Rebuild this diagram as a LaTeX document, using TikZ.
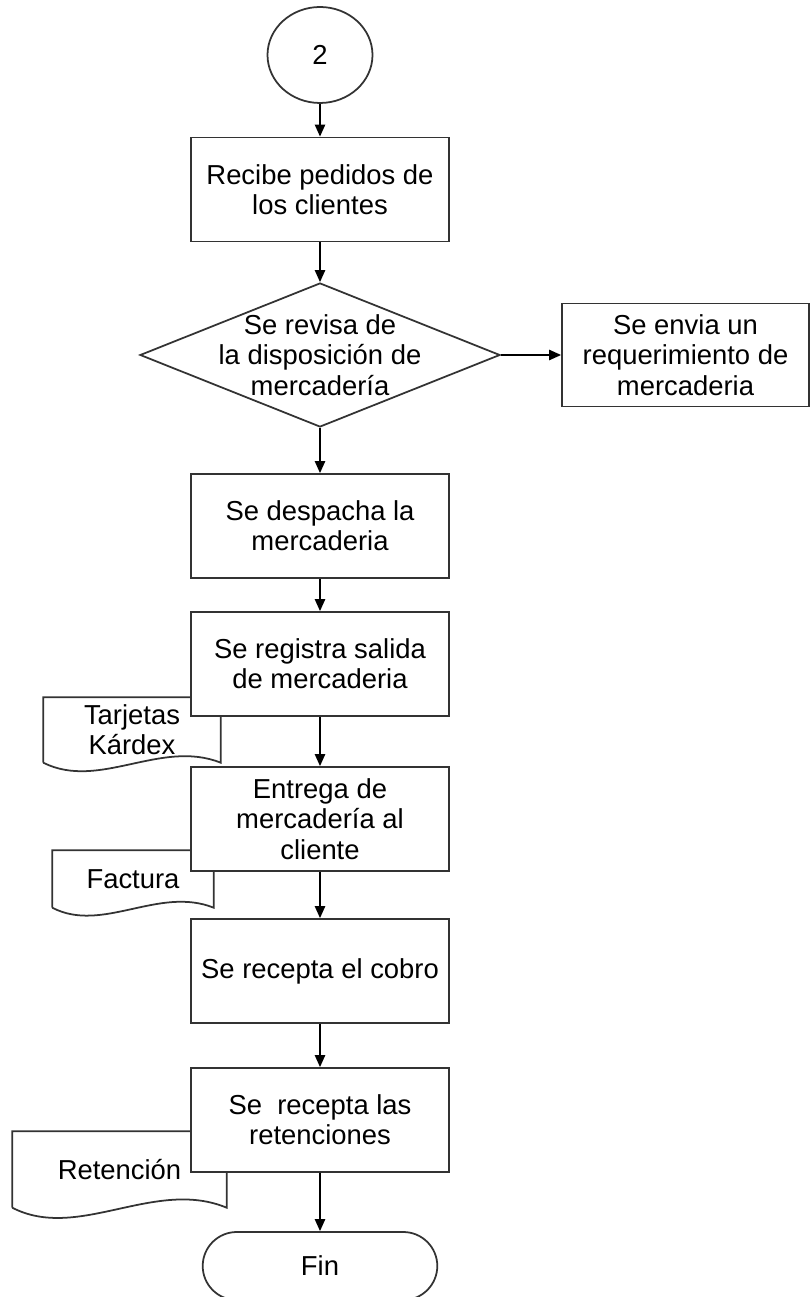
\documentclass[tikz,border=0pt]{standalone}
\usepackage{fontspec}
\setmainfont{Liberation Sans}
\usepackage{tikz}
\usetikzlibrary{shapes.geometric,shapes.misc,arrows.meta}

\begin{document}
\begin{tikzpicture}
	[txt/.style ={font=\fontsize{7.8}{8.6}\selectfont, align=center},
	proc/.style ={rectangle, draw=black!80, line width=0.5pt, fill=white, txt, minimum width=2.58cm, minimum height=1.04cm, inner sep=1pt},
	conn/.style ={ellipse, draw=black!80, line width=0.5pt, fill=white, txt, minimum width=1.05cm, minimum height=0.96cm},
	decision/.style ={diamond, draw=black!80, line width=0.5pt, fill=white, minimum width=3.6cm, minimum height=1.44cm, inner sep=0pt},
	term/.style ={rounded rectangle, draw=black!80, line width=0.5pt, fill=white, txt, minimum width=2.58cm, minimum height=0.68cm},
	docu/.style ={rectangle, txt, inner sep=0pt},
	docline/.style ={draw=black!80, line width=0.5pt},
	line/.style ={draw, line width=0.5pt, -{Triangle[length=3.4pt,width=2.9pt]}}]
	\useasboundingbox (0,0) rectangle (8.10,-12.97);
	% documentos
	\draw (1.32, -7.30) node[docu, minimum width=1.76cm, minimum height=0.64cm] (kardex) {Tarjetas\\Kárdex};
	\draw (1.33, -8.79) node[docu, minimum width=1.60cm, minimum height=0.56cm] (factura) {Factura};
	\draw (1.195, -11.695) node[docu, minimum width=2.13cm, minimum height=0.75cm] (retencion) {Retención};
	\draw[docline] (kardex.south west) -- (kardex.north west) -- (kardex.north east) -- (kardex.south east) .. controls +(-0.6,0.24) and +(0.56,-0.28) .. (kardex.south west);
	\draw[docline] (factura.south west) -- (factura.north west) -- (factura.north east) -- (factura.south east) .. controls +(-0.55,0.22) and +(0.5,-0.26) .. (factura.south west);
	\draw[docline] (retencion.south west) -- (retencion.north west) -- (retencion.north east) -- (retencion.south east) .. controls +(-0.72,0.3) and +(0.66,-0.34) .. (retencion.south west);
	% flujo
	\draw (3.20, -0.55) node[conn] (inicio) {2};
	\draw (3.20, -1.895) node[proc] (pedidos) {Recibe pedidos de\\los clientes};
	\draw (3.20, -3.55) node[decision, label={[txt]center:Se revisa de\\la disposición de\\mercadería}] (revisa) {};
	\draw (6.855, -3.55) node[proc, minimum width=2.47cm, minimum height=1.03cm] (requerimiento) {Se envia un\\requerimiento de\\mercaderia};
	\draw (3.20, -5.26) node[proc] (despacha) {Se despacha la\\mercaderia};
	\draw (3.20, -6.64) node[proc] (salida) {Se registra salida\\de mercaderia};
	\draw (3.20, -8.19) node[proc] (entrega) {Entrega de\\mercadería al\\cliente};
	\draw (3.20, -9.71) node[proc] (cobro) {Se recepta el cobro};
	\draw (3.20, -11.20) node[proc] (retenciones) {Se~ recepta las\\retenciones};
	\draw (3.20, -12.66) node[term] (fin) {Fin};
	\draw[line] (inicio) -- (pedidos);
	\draw[line] (pedidos) -- (revisa);
	\draw[line] (revisa.east) -- (requerimiento.west);
	\draw[line] (revisa) -- (despacha);
	\draw[line] (despacha) -- (salida);
	\draw[line] (salida) -- (entrega);
	\draw[line] (entrega) -- (cobro);
	\draw[line] (cobro) -- (retenciones);
	\draw[line] (retenciones) -- (fin);
\end{tikzpicture}
\end{document}
